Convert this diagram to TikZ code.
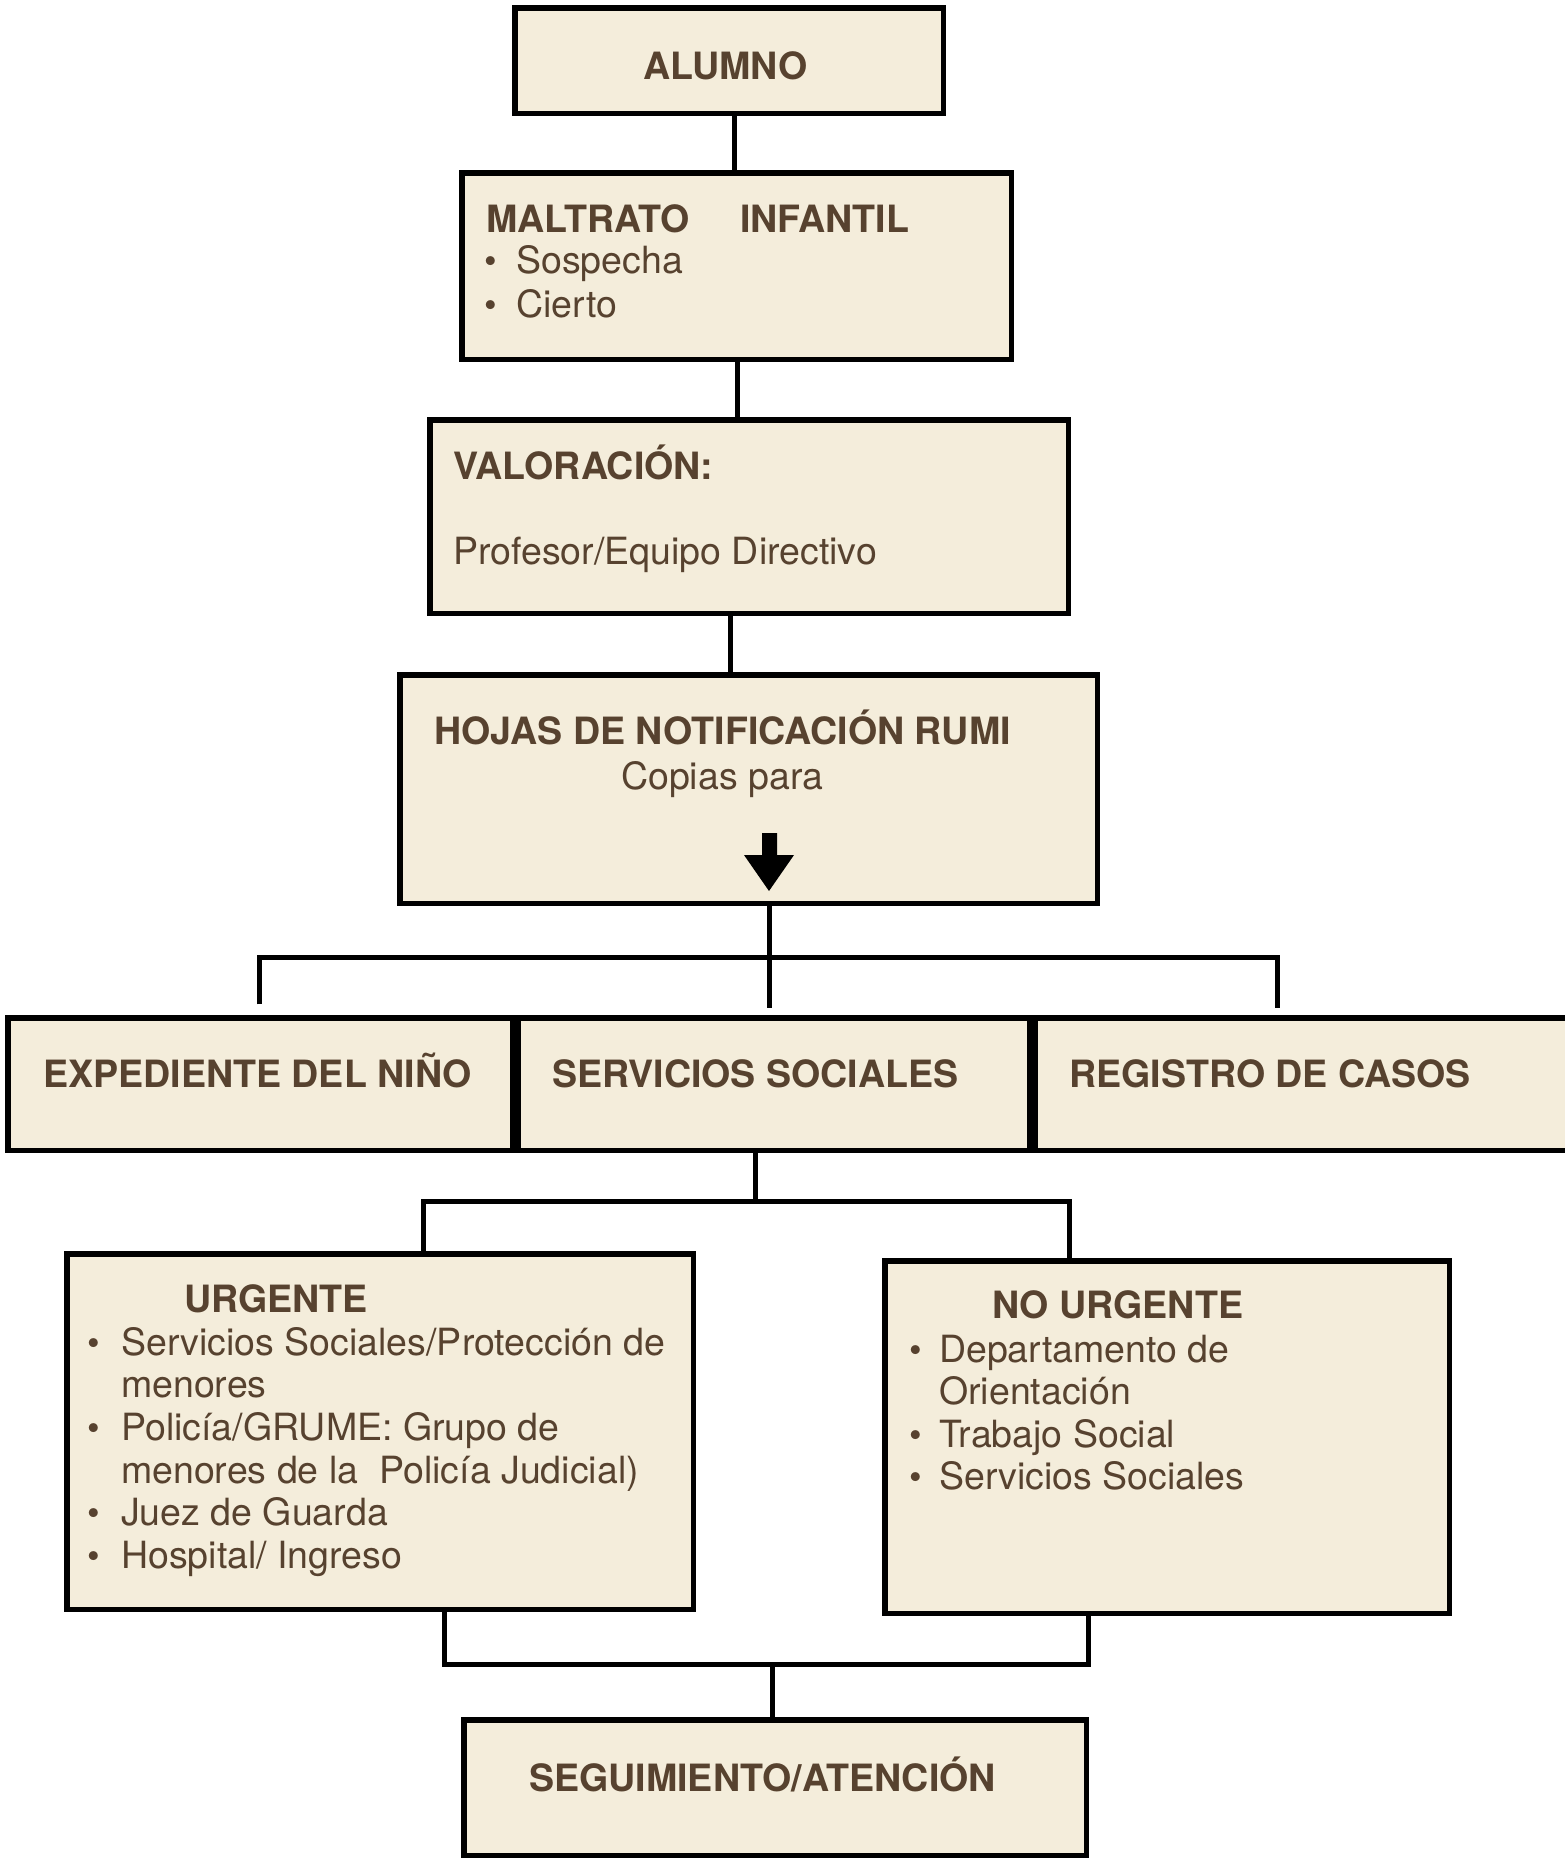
\documentclass[tikz,border=0pt]{standalone}
\usepackage{fontspec}
\setmainfont{TeX Gyre Heros}
\definecolor{txt}{RGB}{87,66,47}
\definecolor{boxfill}{RGB}{244,237,219}
\begin{document}
\begin{tikzpicture}[x=1pt,y=-1pt,
  box/.style={draw=black, fill=boxfill, line width=5.5pt, rectangle, inner sep=0pt},
  conn/.style={draw=black, line width=5pt},
  t/.style={anchor=base west, inner sep=0pt, text=txt, font=\fontsize{37.5}{43}\selectfont},
  tb/.style={t, font=\fontsize{37.6}{43}\selectfont\bfseries},
  bul/.style={t, font=\fontsize{36}{43}\selectfont}
]
\useasboundingbox (0,0) rectangle (1565,1866);

% boxes
\node[box, minimum width=428.5pt, minimum height=105.5pt] (alumno) at (729,60.5) {};
\node[box, minimum width=549.5pt, minimum height=186.5pt] (maltrato) at (736.5,266) {};
\node[box, minimum width=638.5pt, minimum height=193.5pt] (valor) at (749,516.5) {};
\node[box, minimum width=697.5pt, minimum height=228.5pt] (hojas) at (748.5,789) {};
\node[box, minimum width=504.5pt, minimum height=132.5pt] (exped) at (260,1084) {};
\node[box, minimum width=511.5pt, minimum height=132.5pt] (servs) at (773.5,1084) {};
\node[box, minimum width=542.5pt, minimum height=132.5pt] (regis) at (1306,1084) {};
\node[box, minimum width=626.5pt, minimum height=355.5pt] (urg) at (380,1431.5) {};
\node[box, minimum width=564.5pt, minimum height=352.5pt] (nourg) at (1167,1437) {};
\node[box, minimum width=622.5pt, minimum height=135.5pt] (seg) at (775,1787.5) {};

% connector guide coordinates
\coordinate (x1) at (734,0);
\coordinate (x2) at (737,0);
\coordinate (x3) at (730,0);
\coordinate (x4) at (769,0);
\coordinate (bl) at (259,957);
\coordinate (br) at (1277,957);
\coordinate (x5) at (755,0);
\coordinate (b2l) at (423,1201);
\coordinate (b2r) at (1069,1201);
\coordinate (b3l) at (444,1664);
\coordinate (b3r) at (1088,1664);
\coordinate (x6) at (772,0);

\draw[conn] (alumno.south -| x1) -- (maltrato.north -| x1);
\draw[conn] (maltrato.south -| x2) -- (valor.north -| x2);
\draw[conn] (valor.south -| x3) -- (hojas.north -| x3);
\draw[conn, shorten >=6.75pt] (hojas.south -| x4) -- (servs.north -| x4);
\draw[conn, shorten <=10.75pt, shorten >=6.75pt, line join=miter] (exped.north -| bl) -- (bl) -- (br) -- (regis.north -| br);
\draw[conn] (servs.south -| x5) -- (x5 |- b2l);
\draw[conn, line join=miter] (urg.north -| b2l) -- (b2l) -- (b2r) -- (nourg.north -| b2r);
\draw[conn, line join=miter] (urg.south -| b3l) -- (b3l) -- (b3r) -- (nourg.south -| b3r);
\draw[conn] (x6 |- b3l) -- (seg.north -| x6);

% block arrow inside hojas
\fill[black] (762,833) -- (777,833) -- (777,855) -- (794,855) -- (769,891) -- (744,855) -- (762,855) -- cycle;

% texts
\node[tb] (tAlumno) at (643,79) {ALUMNO};
\node[tb] (tMal1) at (486,232) {MALTRATO};
\node[tb] (tMal2) at (740,232) {INFANTIL};
\node[bul] (bM1) at (484,273) {•};
\node[t] (tM1) at (516,273) {Sospecha};
\node[bul] (bM2) at (484,317) {•};
\node[t] (tM2) at (516,317) {Cierto};

\node[tb] (tVal) at (453,479) {VALORACIÓN:};
\node[t] (tProf) at (453,564) {Profesor/Equipo Directivo};

\node[tb] (tHojas) at (434,744) {HOJAS DE NOTIFICACIÓN RUMI};
\node[t] (tCopias) at (621,789) {Copias para};

\node[tb] (tExp) at (43,1087) {EXPEDIENTE DEL NIÑO};
\node[tb] (tSS) at (552,1087) {SERVICIOS SOCIALES};
\node[tb] (tReg) at (1069,1087) {REGISTRO DE CASOS};

\node[tb] (tUrg) at (184,1312) {URGENTE};
\node[bul] (bU1) at (87,1355) {•};
\node[t] (tU1) at (121,1355) {Servicios Sociales/Protección de};
\node[t] (tU2) at (121,1397) {menores};
\node[bul] (bU3) at (87,1440) {•};
\node[t] (tU3) at (121,1440) {Policía/GRUME: Grupo de};
\node[t] (tU4) at (121,1483) {menores de la\ \ Policía Judicial)};
\node[bul] (bU5) at (87,1525) {•};
\node[t] (tU5) at (121,1525) {Juez de Guarda};
\node[bul] (bU6) at (87,1568) {•};
\node[t] (tU6) at (121,1568) {Hospital/ Ingreso};

\node[tb] (tNo) at (992,1318) {NO URGENTE};
\node[bul] (bN1) at (909,1362) {•};
\node[t] (tN1) at (939,1362) {Departamento de};
\node[t] (tN2) at (939,1404) {Orientación};
\node[bul] (bN3) at (909,1447) {•};
\node[t] (tN3) at (939,1447) {Trabajo Social};
\node[bul] (bN4) at (909,1489) {•};
\node[t] (tN4) at (939,1489) {Servicios Sociales};

\node[tb] (tSeg) at (529,1791) {SEGUIMIENTO/ATENCIÓN};
\end{tikzpicture}
\end{document}
